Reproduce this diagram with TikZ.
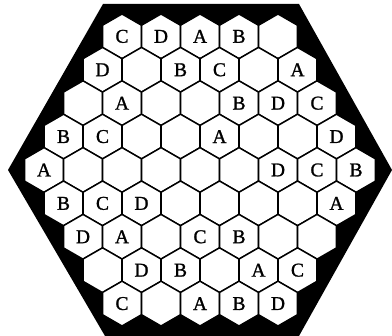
\documentclass[tikz,border=0pt]{standalone}
\usepackage{fontspec}
\newfontfamily\cellfont[FakeBold=1.2]{Liberation Serif}
\usetikzlibrary{shapes.geometric}
\begin{document}
\begin{tikzpicture}[x=1pt,y=1pt,line join=round,font=\cellfont\fontsize{19.5}{19.5}\selectfont]
		\tikzset{cell/.style={regular polygon,regular polygon sides=6,shape border rotate=30,minimum size=44.8pt,inner sep=0pt,draw,fill=white,line width=1.5pt}}
		\useasboundingbox (0,0) rectangle (392,336);
		% black board
		\fill (8,166)--(103,332)--(299,332)--(392,166)--(299,0)--(105,0)--cycle;
		% cells, row by row
		\foreach \r/\n in {0/5,1/6,2/7,3/8,4/9,5/8,6/7,7/6,8/5}
		\foreach \k in {1,...,\n}
		\node[cell] (h-\r-\k) at ({200+(\k-(\n+1)/2)*39},{166-(\r-4)*33.4}) {};
		% letters
		\foreach \r/\k/\l in {0/1/C,0/2/D,0/3/A,0/4/B,
			1/1/D,1/3/B,1/4/C,1/6/A,
			2/2/A,2/5/B,2/6/D,2/7/C,
			3/1/B,3/2/C,3/5/A,3/8/D,
			4/1/A,4/7/D,4/8/C,4/9/B,
			5/1/B,5/2/C,5/3/D,5/8/A,
			6/1/D,6/2/A,6/4/C,6/5/B,
			7/2/D,7/3/B,7/5/A,7/6/C,
			8/1/C,8/3/A,8/4/B,8/5/D}
		\node at (h-\r-\k) {\l};
	\end{tikzpicture}
\end{document}
